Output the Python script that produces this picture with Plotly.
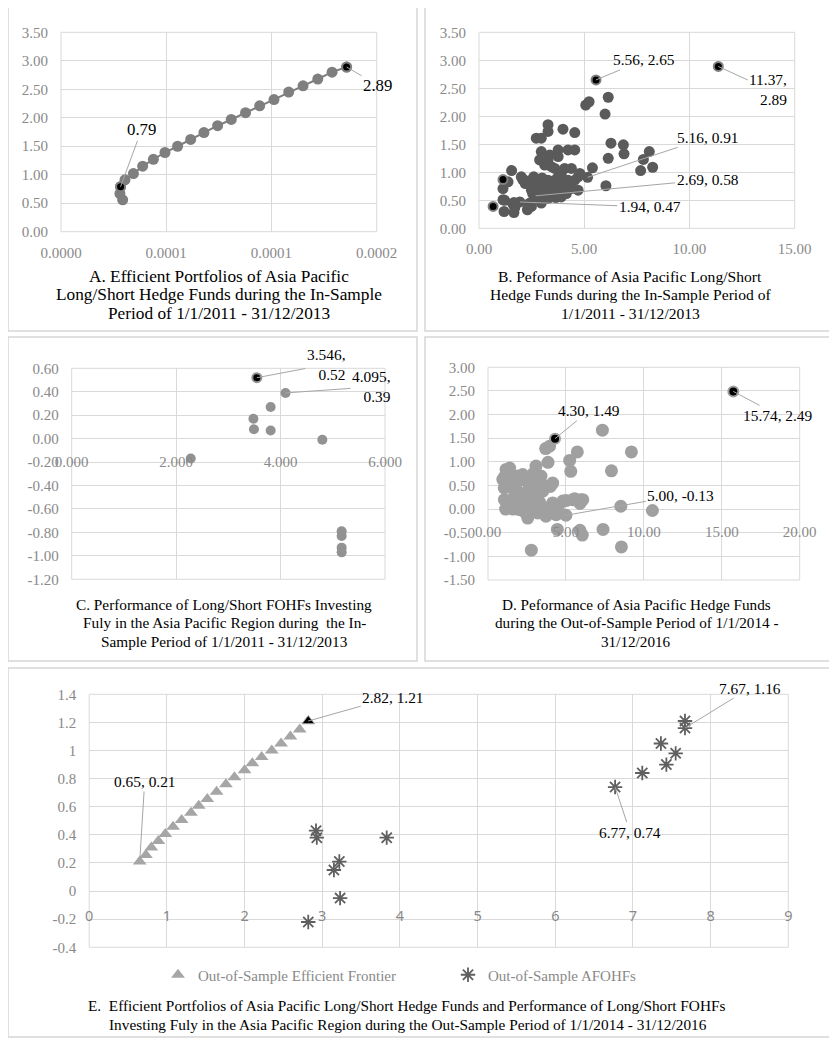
import plotly.graph_objects as go

W, H = 837, 1040
OFF = 8  # the page body adds an 8px margin; positions below are in screen pixels
SERIF = "Liberation Serif, Times New Roman, serif"
SANS = "Noto Sans, Open Sans, sans-serif"
TICKC = "#898989"
GRID = "#d9d9d9"
LEAD = "#a6a6a6"

# ---------------- Panel A: efficient portfolios (in-sample) ----------------
a_x = [0.0000293, 0.0000280, 0.0000283, 0.0000304, 0.0000344, 0.0000388, 0.0000439,
       0.0000494, 0.0000554, 0.0000616, 0.0000679, 0.0000744, 0.0000809, 0.0000877,
       0.0000944, 0.0001012, 0.0001082, 0.0001150, 0.0001220, 0.0001288, 0.0001357]
a_y = [0.56, 0.67, 0.79, 0.91, 1.02, 1.15, 1.27, 1.39, 1.50, 1.62, 1.74, 1.86, 1.97,
       2.09, 2.21, 2.32, 2.45, 2.56, 2.68, 2.80, 2.89]
a_hl_x = [0.0000283, 0.0001357]
a_hl_y = [0.79, 2.89]
a_xticks = [0, 0.00005, 0.0001, 0.00015]
a_xtext = ["0.0000", "0.0001", "0.0001", "0.0002"]
a_yticks = [0, 0.5, 1.0, 1.5, 2.0, 2.5, 3.0, 3.5]

# ---------------- Panel B: hedge funds in-sample ----------------
b_x = [1.55, 1.14, 1.38, 1.22, 1.19, 1.66, 1.61, 1.94, 2.33, 2.41, 2.17, 2.49, 2.64, 2.80,
       2.49, 2.72, 2.69, 3.12, 3.28, 3.36, 3.60, 3.76, 3.44, 3.12, 3.28, 2.88, 2.96, 3.36,
       3.76, 3.76, 4.23, 4.55, 2.72, 2.96, 3.28, 3.28, 3.99, 4.55, 3.60, 4.07, 4.39, 3.91,
       4.23, 4.55, 4.71, 4.79, 4.71, 4.39, 4.07, 3.76, 3.91, 3.52, 3.28, 2.96, 2.49, 2.01,
       5.16, 5.39, 5.07, 5.23, 6.14, 5.99, 6.27, 6.86, 6.89, 6.14, 8.09, 7.81, 8.25, 7.68,
       6.03, 2.30, 2.20, 2.55, 2.85, 3.05, 3.45, 3.95, 4.15, 3.65, 2.40, 2.60, 3.00, 1.70,
       1.66, 2.09, 1.14]
b_y = [1.03, 0.71, 0.83, 0.50, 0.30, 0.28, 0.43, 0.47, 0.36, 0.45, 0.86, 0.86, 0.74, 0.86,
       0.68, 0.56, 0.58, 0.74, 0.86, 0.71, 0.86, 0.92, 1.10, 1.13, 1.22, 1.22, 1.37, 1.31,
       1.40, 1.28, 1.40, 1.40, 1.61, 1.61, 1.85, 1.73, 1.77, 1.71, 1.07, 1.07, 1.07, 0.98,
       0.86, 0.86, 0.92, 0.98, 0.68, 0.71, 0.74, 0.68, 0.56, 0.59, 0.53, 0.45, 0.39, 0.92,
       0.91, 1.08, 2.20, 2.26, 2.34, 2.04, 1.52, 1.49, 1.33, 1.25, 1.37, 1.23, 1.09, 1.03,
       0.76, 0.33, 0.80, 0.62, 0.66, 0.62, 0.78, 0.80, 0.62, 0.55, 0.80, 0.92, 0.90, 0.37,
       0.46, 0.86, 0.51]
b_hl_x = [0.67, 1.14, 5.56, 11.37]
b_hl_y = [0.39, 0.87, 2.65, 2.89]
b_xticks = [0, 5, 10, 15]
b_yticks = [0, 0.5, 1.0, 1.5, 2.0, 2.5, 3.0, 3.5]

# ---------------- Panel C: FOHFs in-sample ----------------
c_x = [4.095, 3.81, 3.48, 3.49, 3.81, 4.80, 2.28, 5.17, 5.17, 5.17, 5.17]
c_y = [0.39, 0.27, 0.17, 0.08, 0.07, -0.01, -0.17, -0.79, -0.83, -0.93, -0.97]
c_hl_x = [3.546]
c_hl_y = [0.52]
c_xticks = [0, 2, 4, 6]
c_yticks = [-1.2, -1.0, -0.8, -0.6, -0.4, -0.2, 0.0, 0.2, 0.4, 0.6]

# ---------------- Panel D: hedge funds out-of-sample ----------------
d_x = [7.34, 9.20, 5.73, 5.24, 5.31, 7.92, 3.70, 3.95, 3.85, 8.52, 10.55, 7.38, 5.90, 6.05,
       8.56, 2.78, 4.45, 5.90, 5.95, 5.56, 5.00, 1.16, 1.37, 2.23, 3.08, 3.40, 4.15, 1.16,
       1.80, 2.66, 3.51, 1.05, 1.58, 2.01, 2.55, 3.19, 3.83, 4.15, 4.80, 5.44, 6.08, 5.00,
       4.37, 3.72, 2.44, 3.08, 1.90, 0.95, 1.07, 1.39, 1.04, 1.13, 1.50, 2.00, 2.50, 3.00,
       3.30, 2.80, 2.20, 1.70, 1.30, 2.60, 3.60, 4.00, 2.90, 1.90, 4.50, 4.20, 3.50, 2.30,
       1.60, 2.00, 2.70, 3.20]
d_y = [1.67, 1.21, 1.21, 1.03, 0.80, 0.81, 1.28, 1.33, 0.99, 0.06, -0.03, -0.43, -0.45, -0.55,
       -0.80, -0.87, -0.43, 0.12, 0.20, 0.22, 0.18, 0.84, 0.66, 0.73, 0.91, 0.70, 0.55, 0.48,
       0.41, 0.48, 0.38, 0.20, 0.13, -0.01, -0.19, -0.08, 0.03, 0.13, 0.17, 0.20, 0.20, -0.13,
       -0.12, -0.15, 0.20, 0.24, 0.24, 0.63, 0.69, 0.87, 0.45, 0.00, 0.55, 0.60, 0.35, 0.55,
       0.15, 0.05, 0.10, 0.30, 0.10, 0.65, 0.50, 0.48, 0.75, 0.70, 0.05, -0.05, 0.00, -0.05,
       0.00, 0.35, 0.28, 0.42]
d_hl_x = [4.30, 15.74]
d_hl_y = [1.49, 2.49]
d_xticks = [0, 5, 10, 15, 20]
d_yticks = [-1.5, -1.0, -0.5, 0.0, 0.5, 1.0, 1.5, 2.0, 2.5, 3.0]

# ---------------- Panel E: out-of-sample frontier and AFOHFs ----------------
e_front_x = [0.65, 0.73, 0.80, 0.89, 0.98, 1.08, 1.19, 1.31, 1.41, 1.52, 1.64, 1.76, 1.87,
             2.00, 2.10, 2.22, 2.35, 2.47, 2.59, 2.71]
e_front_y = [0.21, 0.256, 0.31, 0.356, 0.406, 0.458, 0.505, 0.557, 0.607, 0.655, 0.707,
             0.76, 0.81, 0.86, 0.91, 0.954, 1.00, 1.05, 1.10, 1.15]
e_front_hl_x = [2.82]
e_front_hl_y = [1.21]
e_fof_x = [2.92, 2.93, 3.22, 3.15, 3.23, 2.82, 3.83, 6.77, 7.12, 7.43, 7.36, 7.55, 7.67, 7.67]
e_fof_y = [0.43, 0.38, 0.21, 0.15, -0.05, -0.22, 0.38, 0.74, 0.84, 0.90, 1.05, 0.98, 1.21, 1.16]
e_xticks = [0, 1, 2, 3, 4, 5, 6, 7, 8, 9]
e_yticks = [-0.4, -0.2, 0, 0.2, 0.4, 0.6, 0.8, 1.0, 1.2, 1.4]

# ---------------- layout geometry (screen pixels) ----------------
def fx(p):
    return (p - OFF) / W

def fy(p):
    return 1 - (p - OFF) / H

boxes = {  # plot areas: x0, x1, ytop, ybottom
    "A": (61, 376.7, 32.3, 231.7),
    "B": (479, 794.7, 32.3, 228.3),
    "C": (71.7, 385, 368.3, 579.3),
    "D": (488, 799.7, 367.3, 580),
    "E": (89.2, 788.3, 694.3, 947.3),
}

def dom(k):
    x0, x1, yt, yb = boxes[k]
    return [fx(x0), fx(x1)], [fy(yb), fy(yt)]

fig = go.Figure()

def circ(x, y, xa, ya, color, size, line=False):
    fig.add_trace(go.Scatter(
        x=x, y=y, xaxis=xa, yaxis=ya, showlegend=False,
        mode="lines+markers" if line else "markers",
        line=dict(color=color, width=2),
        marker=dict(color=color, size=size, symbol="circle")))

def hl(x, y, xa, ya, ring, size=9):
    fig.add_trace(go.Scatter(
        x=x, y=y, xaxis=xa, yaxis=ya, showlegend=False, mode="markers",
        marker=dict(color="black", size=size, line=dict(color=ring, width=2))))

circ(a_x, a_y, "x", "y", "#7f7f7f", 11, line=True)
hl(a_hl_x, a_hl_y, "x", "y", "#7f7f7f")
circ(b_x, b_y, "x2", "y2", "#5a5a5a", 11)
hl(b_hl_x, b_hl_y, "x2", "y2", "#7f7f7f")
circ(c_x, c_y, "x3", "y3", "#929292", 10)
hl(c_hl_x, c_hl_y, "x3", "y3", "#929292")
circ(d_x, d_y, "x4", "y4", "#a0a0a0", 13)
hl(d_hl_x, d_hl_y, "x4", "y4", "#a0a0a0", size=10)

fig.add_trace(go.Scatter(x=e_front_x, y=e_front_y, xaxis="x5", yaxis="y5", mode="markers",
                         name="Out-of-Sample Efficient Frontier",
                         marker=dict(symbol="triangle-up", color="#a6a6a6", size=12)))
fig.add_trace(go.Scatter(x=e_front_hl_x, y=e_front_hl_y, xaxis="x5", yaxis="y5", mode="markers",
                         showlegend=False,
                         marker=dict(symbol="triangle-up", color="black", size=11,
                                     line=dict(color="#a6a6a6", width=1))))
fig.add_trace(go.Scatter(x=e_fof_x, y=e_fof_y, xaxis="x5", yaxis="y5", mode="markers",
                         name="Out-of-Sample AFOHFs",
                         marker=dict(symbol="asterisk-open", color="#5f5f5f", size=12,
                                     line=dict(color="#5f5f5f", width=1.8))))

def fmt(vals, nd):
    return [f"{v:.{nd}f}" for v in vals]

def efmt(vals):
    out = []
    for v in vals:
        s = f"{v:.1f}".rstrip("0").rstrip(".")
        if s in ("-0", ""):
            s = "0"
        out.append(s)
    return out

tickfont = dict(family=SERIF, size=15, color=TICKC)

def xax(k, tv, tt, rng, ticklen=7, anchor=None, pos=None, font=tickfont):
    d, _ = dom(k)
    ax = dict(domain=d, range=rng, tickvals=tv, ticktext=tt, showgrid=True, gridcolor=GRID,
              gridwidth=1, zeroline=False, showline=False, ticks="outside", ticklen=ticklen,
              tickcolor="rgba(0,0,0,0)", tickfont=font, fixedrange=True, automargin=False)
    if pos is not None:
        ax["anchor"] = "free"
        ax["position"] = pos
    else:
        ax["anchor"] = anchor
    return ax

def yax(k, tv, tt, rng, anchor):
    _, d = dom(k)
    return dict(domain=d, range=rng, tickvals=tv, ticktext=tt, showgrid=True, gridcolor=GRID,
                gridwidth=1, zeroline=False, showline=False, ticks="outside", ticklen=9,
                tickcolor="rgba(0,0,0,0)", tickfont=tickfont, anchor=anchor, fixedrange=True,
                automargin=False)

def zero_pos(k, rng):
    _, d = dom(k)
    return d[0] + (0 - rng[0]) / (rng[1] - rng[0]) * (d[1] - d[0])

c_yr = [-1.2, 0.6]
d_yr = [-1.5, 3.0]
e_yr = [-0.4, 1.4]

fig.update_layout(
    xaxis=xax("A", a_xticks, a_xtext, [0, 0.00015], anchor="y"),
    yaxis=yax("A", a_yticks, fmt(a_yticks, 2), [0, 3.5], "x"),
    xaxis2=xax("B", b_xticks, fmt(b_xticks, 2), [0, 15], anchor="y2"),
    yaxis2=yax("B", b_yticks, fmt(b_yticks, 2), [0, 3.5], "x2"),
    xaxis3=xax("C", c_xticks, fmt(c_xticks, 3), [0, 6], ticklen=9, pos=zero_pos("C", c_yr)),
    yaxis3=yax("C", c_yticks, fmt(c_yticks, 2), c_yr, "x3"),
    xaxis4=xax("D", d_xticks, fmt(d_xticks, 2), [0, 20], ticklen=9, pos=zero_pos("D", d_yr)),
    yaxis4=yax("D", d_yticks, fmt(d_yticks, 2), d_yr, "x4"),
    xaxis5=xax("E", e_xticks, [str(v) for v in e_xticks], [0, 9], ticklen=12,
               pos=zero_pos("E", e_yr), font=dict(family=SANS, size=14.5, color=TICKC)),
    yaxis5=yax("E", e_yticks, efmt(e_yticks), e_yr, "x5"),
)

shapes = []
# panel frames
for (x0, x1, y0, y1) in [(8, 417, 7, 331), (425, 834, 7, 331), (8, 417, 337, 661),
                         (425, 834, 337, 661), (8, 834, 668, 1037)]:
    shapes.append(dict(type="rect", xref="paper", yref="paper", x0=fx(x0), x1=fx(x1),
                       y0=fy(y1), y1=fy(y0), line=dict(color="#d6d6d6", width=1.5),
                       layer="below"))
# plot area outlines
for xa, ya in [("x", "y"), ("x2", "y2"), ("x3", "y3"), ("x4", "y4"), ("x5", "y5")]:
    shapes.append(dict(type="rect", xref=f"{xa} domain", yref=f"{ya} domain", x0=0, x1=1,
                       y0=0, y1=1, line=dict(color=GRID, width=1), layer="below"))

ann = []

def lab(xa, ya, x, y, text, ax, ay, size=15.4, align="center"):
    ann.append(dict(x=x, y=y, xref=xa, yref=ya, text=text, showarrow=True, arrowhead=0,
                    arrowwidth=1, arrowcolor=LEAD, ax=ax, ay=ay, standoff=0,
                    align=align, font=dict(family=SERIF, size=size, color="black")))

lab("x", "y", a_hl_x[0], a_hl_y[0], "0.79", 21, -57, size=16.8)
lab("x", "y", a_hl_x[1], a_hl_y[1], "2.89", 31, 18, size=16.8)
lab("x2", "y2", 5.56, 2.65, "5.56, 2.65", 48, -20)
lab("x2", "y2", 11.37, 2.89, "11.37,<br>2.89", 50, 23, align="right")
lab("x2", "y2", 5.16, 0.91, "5.16, 0.91", 120, -40)
lab("x2", "y2", 2.69, 0.58, "2.69, 0.58", 172, -16)
lab("x2", "y2", 1.94, 0.47, "1.94, 0.47", 130, 5)
lab("x3", "y3", 3.546, 0.52, "3.546,<br>0.52", 69, -13, align="right")
lab("x3", "y3", 4.095, 0.39, "4.095,<br>0.39", 86, -6, align="right")
lab("x4", "y4", 4.30, 1.49, "4.30, 1.49", 34, -28)
lab("x4", "y4", 15.74, 2.49, "15.74, 2.49", 45, 24)
lab("x4", "y4", 5.00, -0.13, "5.00, -0.13", 115, -20)
lab("x5", "y5", 2.82, 1.21, "2.82, 1.21", 85, -24)
lab("x5", "y5", 0.65, 0.21, "0.65, 0.21", 5, -80)
lab("x5", "y5", 7.67, 1.16, "7.67, 1.16", 65, -40)
lab("x5", "y5", 6.77, 0.74, "6.77, 0.74", 15, 45)

def cap(xc, yc, text, size, xanchor="center"):
    ann.append(dict(x=fx(xc), y=fy(yc), xref="paper", yref="paper", text=text,
                    showarrow=False, xanchor=xanchor, yanchor="middle",
                    font=dict(family=SERIF, size=size, color="black")))

for i, t in enumerate(["A. Efficient Portfolios of Asia Pacific",
                       "Long/Short Hedge Funds during the In-Sample",
                       "Period of 1/1/2011 - 31/12/2013"]):
    cap(219, 276 + 18.5 * i, t, 17.3)
for i, t in enumerate(["B. Peformance of Asia Pacific Long/Short",
                       "Hedge Funds during the In-Sample Period of",
                       "1/1/2011 - 31/12/2013"]):
    cap(630, 276 + 18.5 * i, t, 15.6)
for i, t in enumerate(["C. Performance of Long/Short FOHFs Investing",
                       "Fuly in the Asia Pacific Region during  the In-",
                       "Sample Period of 1/1/2011 - 31/12/2013"]):
    cap(224, 604 + 18.5 * i, t, 15.3)
for i, t in enumerate(["D. Peformance of Asia Pacific Hedge Funds",
                       "during the Out-of-Sample Period of 1/1/2014 -",
                       "31/12/2016"]):
    cap(636, 604 + 18.5 * i, t, 15.2)
cap(86, 1005.7, "E.  Efficient Portfolios of Asia Pacific Long/Short Hedge Funds and Performance of Long/Short FOHFs", 15.3, xanchor="left")
cap(107, 1024, "Investing Fuly in the Asia Pacific Region during the Out-Sample Period of 1/1/2014 - 31/12/2016", 15.3, xanchor="left")

fig.update_layout(
    width=W, height=H, margin=dict(l=0, r=0, t=0, b=0, pad=0, autoexpand=False),
    paper_bgcolor="white", plot_bgcolor="white",
    shapes=shapes, annotations=ann,
    showlegend=True,
    legend=dict(orientation="h", x=fx(158), y=fy(975), xanchor="left", yanchor="middle",
                font=dict(family=SERIF, size=15, color=TICKC), bgcolor="rgba(0,0,0,0)",
                entrywidth=245, entrywidthmode="pixels", itemwidth=30),
)

fig.write_html("out.html")
